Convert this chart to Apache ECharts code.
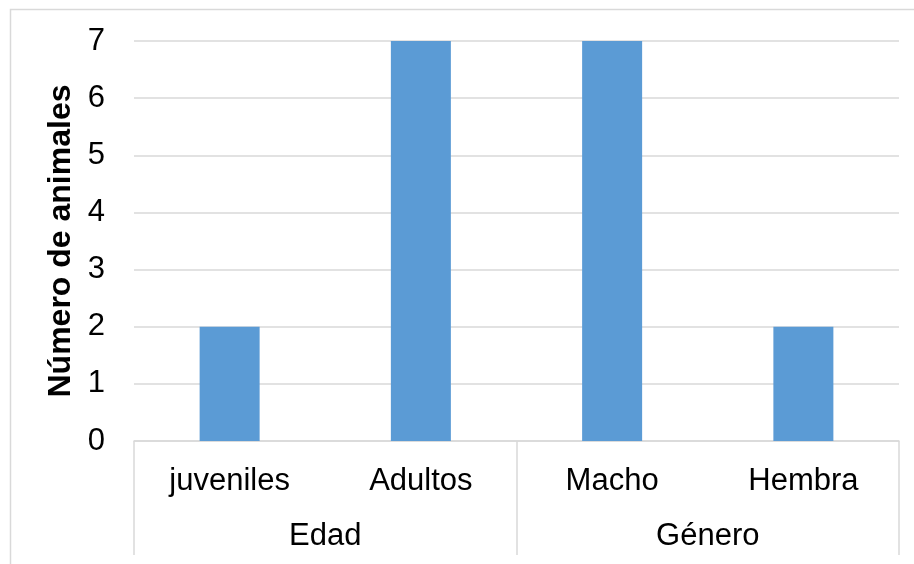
<!DOCTYPE html>
<html>
<head>
<meta charset="utf-8">
<script src="https://cdn.jsdelivr.net/npm/echarts@6/dist/echarts.min.js"></script>
<style>
  html, body { margin: 0; padding: 0; background: #fff; }
  #chart { width: 914px; height: 564px; }
</style>
</head>
<body>
<div id="chart"></div>
<script>
// Animal counts by age group and by sex
const categories = ['juveniles', 'Adultos', 'Macho', 'Hembra'];
const groups = ['Edad', 'Género'];
const counts = [2, 7, 7, 2];
const yTicks = [0, 1, 2, 3, 4, 5, 6, 7];

const FONT = 'Liberation Sans, Arial, sans-serif';
const GRID_COLOR = '#d9d9d9';

const chart = echarts.init(document.getElementById('chart'), null, { renderer: 'canvas' });

chart.setOption({
  animation: false,
  backgroundColor: '#fff',
  textStyle: { fontFamily: FONT },
  grid: { left: 134, right: 15, top: 41, bottom: 123, containLabel: false },
  graphic: [{
    type: 'rect',
    shape: { x: 10.5, y: 9.5, width: 940, height: 620 },
    style: { fill: 'none', stroke: GRID_COLOR, lineWidth: 1.5 },
    silent: true, z: -1
  }],
  xAxis: [{
    type: 'category',
    data: categories,
    position: 'bottom',
    axisLine: { show: true, lineStyle: { color: GRID_COLOR, width: 1.5 } },
    axisTick: { show: false },
    axisLabel: { color: '#000', fontSize: 31, fontFamily: FONT, margin: 25, interval: 0 }
  }, {
    type: 'category',
    data: groups,
    position: 'bottom',
    axisLine: { show: false },
    axisTick: { show: true, length: 114, interval: 0, lineStyle: { color: GRID_COLOR, width: 1.5 } },
    axisLabel: { color: '#000', fontSize: 31, fontFamily: FONT, margin: 80, interval: 0 },
    splitLine: { show: false }
  }],
  yAxis: {
    type: 'value',
    min: yTicks[0],
    max: yTicks[yTicks.length - 1],
    interval: 1,
    name: 'Número de animales',
    nameLocation: 'middle',
    nameRotate: 90,
    nameGap: 56,
    nameTextStyle: { color: '#000', fontSize: 32, fontWeight: 'bold', fontFamily: FONT },
    axisLine: { show: false },
    axisTick: { show: false },
    axisLabel: { color: '#000', fontSize: 31, fontFamily: FONT, margin: 29 },
    splitLine: { lineStyle: { color: GRID_COLOR, width: 1.5 } }
  },
  series: [{
    type: 'bar',
    xAxisIndex: 0,
    data: counts,
    barWidth: 60,
    itemStyle: { color: '#5B9BD5' }
  }]
});
</script>
</body>
</html>
